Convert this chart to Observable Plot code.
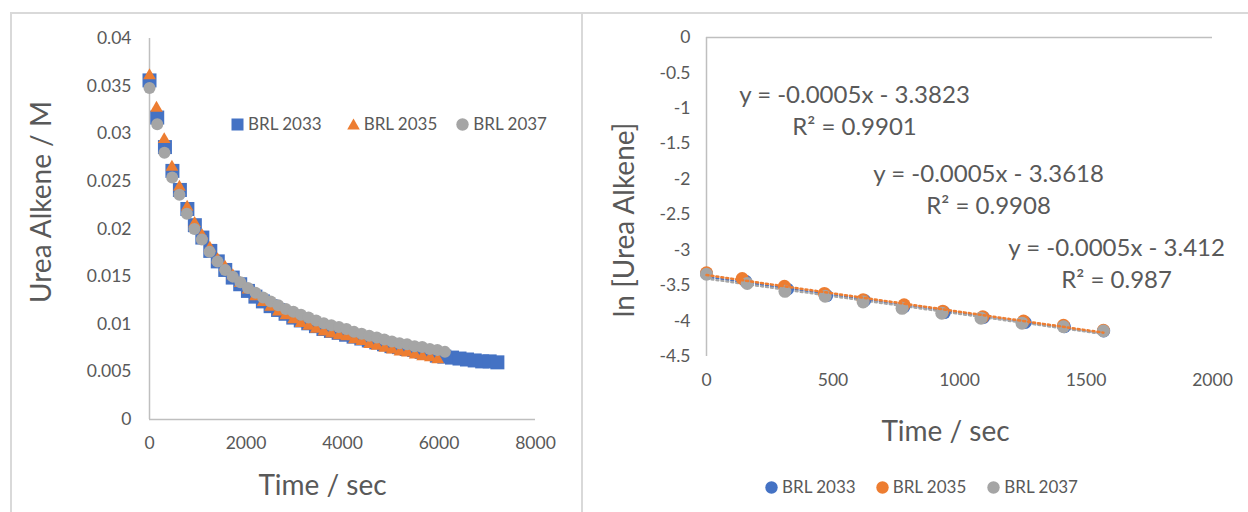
<!DOCTYPE html>
<html><head><meta charset="utf-8">
<script src="https://cdn.jsdelivr.net/npm/d3@7"></script>
<script src="https://cdn.jsdelivr.net/npm/@observablehq/plot@0.6"></script>
<style>
body{margin:0;background:#fff;}
#wrap{position:relative;width:1248px;height:512px;overflow:hidden;font-family:Lato,sans-serif;color:#595959;}
.line{position:absolute;background:#d9d9d9;}
#left,#right{position:absolute;top:0;}
#left{left:0;} #right{left:582px;}
.legend{position:absolute;display:flex;align-items:center;font-size:17px;color:#595959;white-space:nowrap;line-height:24px;}
.legend .item{display:flex;align-items:center;}
.legend svg{margin-right:4px;display:block;}
</style></head><body>
<div id="wrap">
  <div class="line" style="left:11px;top:12px;width:1237px;height:2px"></div>
  <div class="line" style="left:10px;top:12px;width:2px;height:500px"></div>
  <div class="line" style="left:581px;top:12px;width:2px;height:500px"></div>
  <div id="left"></div>
  <div id="right"></div>
  <div class="legend" id="legL" style="left:231px;top:112px"></div>
  <div class="legend" id="legR" style="left:765px;top:475px"></div>
</div>
<script>
// ---------- series names & colours ----------
const seriesNames = ["BRL 2033", "BRL 2035", "BRL 2037"];
const seriesColors = ["#4472C4", "#ED7D31", "#A5A5A5"];

// ---------- left chart: concentration vs time ----------
const t2033 = [0,160,320,475,630,785,940,1095,1260,1415,1570,1725,1880,2040,2195,2350,2510,2665,2820,2980,3135,3290,3450,3605,3760,3920,4075,4230,4390,4545,4700,4860,5015,5170,5330,5485,5640,5800,5955,6110,6270,6425,6580,6740,6895,7050,7210];
const c2033 = [0.0356,0.0317,0.0286,0.0261,0.0241,0.0221,0.0204,0.0191,0.0177,0.0166,0.0157,0.0149,0.0142,0.0135,0.0129,0.0124,0.0119,0.0115,0.0111,0.0107,0.0104,0.0101,0.0098,0.0095,0.0093,0.0091,0.0089,0.0087,0.0085,0.0083,0.0081,0.0079,0.0077,0.0076,0.0074,0.0073,0.0071,0.0070,0.0067,0.0066,0.0065,0.0064,0.0063,0.0062,0.0061,0.0061,0.0060];

const t2035 = [0,145,305,465,620,780,935,1090,1250,1410,1565,1725,1880,2040,2195,2355,2510,2670,2825,2985,3140,3300,3455,3615,3770,3930,4085,4245,4400,4560,4715,4875,5030,5190,5345,5505,5660,5820,5975];
const c2035 = [0.0361,0.0327,0.0294,0.0265,0.0244,0.0223,0.0206,0.0193,0.0180,0.0168,0.0160,0.0151,0.0143,0.0136,0.0129,0.0123,0.0118,0.0113,0.0109,0.0105,0.0101,0.0098,0.0095,0.0092,0.0090,0.0088,0.0087,0.0084,0.0082,0.0079,0.0077,0.0075,0.0073,0.0071,0.0070,0.0068,0.0066,0.0065,0.0063];

const t2037 = [0,160,310,470,620,775,930,1085,1245,1410,1570,1727,1884,2041,2198,2355,2512,2669,2826,2983,3140,3297,3454,3611,3768,3925,4082,4239,4396,4553,4710,4867,5024,5181,5338,5495,5652,5809,5966,6123];
const c2037 = [0.0348,0.0310,0.0280,0.0254,0.0236,0.0216,0.0200,0.0189,0.0176,0.0166,0.0157,0.0150,0.0144,0.0138,0.0133,0.0128,0.0124,0.0120,0.0116,0.0113,0.0110,0.0107,0.0104,0.0101,0.0099,0.0097,0.0095,0.0092,0.0090,0.0088,0.0086,0.0084,0.0082,0.0080,0.0079,0.0077,0.0076,0.0074,0.0073,0.0071];

const xTicksLeft = [0, 2000, 4000, 6000, 8000];
const yTicksLeft = [0, 0.005, 0.01, 0.015, 0.02, 0.025, 0.03, 0.035, 0.04];
const xTitleLeft = "Time / sec";
const yTitleLeft = "Urea Alkene / M";

// ---------- right chart: ln[conc] vs time ----------
const lt2033 = [0,155,320,475,625,780,940,1095,1260,1415,1570];
const ln2033 = [-3.33,-3.44,-3.55,-3.64,-3.71,-3.80,-3.88,-3.95,-4.02,-4.08,-4.14];
const lt2035 = [0,141,308,466,619,781,934,1092,1253,1411,1569];
const ln2035 = [-3.32,-3.40,-3.51,-3.61,-3.70,-3.77,-3.86,-3.94,-4.00,-4.06,-4.13];
const lt2037 = [0,161,310,469,619,773,930,1085,1247,1411,1569];
const ln2037 = [-3.34,-3.47,-3.58,-3.65,-3.73,-3.82,-3.89,-3.96,-4.03,-4.08,-4.14];

const xTicksRight = [0, 500, 1000, 1500, 2000];
const yTicksRight = [0, -0.5, -1, -1.5, -2, -2.5, -3, -3.5, -4, -4.5];
const xTitleRight = "Time / sec";
const yTitleRight = "ln [Urea Alkene]";

const equationTexts = ["y = -0.0005x - 3.3823\nR² = 0.9901", "y = -0.0005x - 3.3618\nR² = 0.9908", "y = -0.0005x - 3.412\nR² = 0.987"];
// annotation anchor points (data units) for the trendline labels
const equationAnchors = [{x: 585, y: -1.01}, {x: 1115, y: -2.12}, {x: 1621, y: -3.16}];

// ---------- build tables ----------
const zipRows = (ts, vs) => ts.map((t, i) => ({t, v: vs[i]}));
const L = [zipRows(t2033, c2033), zipRows(t2035, c2035), zipRows(t2037, c2037)];
const R = [zipRows(lt2033, ln2033), zipRows(lt2035, ln2035), zipRows(lt2037, ln2037)];
const eqRows = equationTexts.map((s, i) => ({label: s, ...equationAnchors[i]}));

const axisColor = "#bfbfbf";
const textColor = "#595959";
const fmt = d => String(d);

const left = Plot.plot({
  width: 582, height: 512,
  marginLeft: 149, marginRight: 47, marginTop: 38, marginBottom: 93,
  style: {fontFamily: "Lato, sans-serif", color: textColor, background: "transparent", overflow: "visible"},
  x: {domain: [0, 8000]},
  y: {domain: [0, 0.04]},
  marks: [
    Plot.axisY(yTicksLeft, {tickSize: 0, tickPadding: 18, fontSize: 17.5, tickFormat: fmt, label: null}),
    Plot.axisX(xTicksLeft, {tickSize: 0, tickPadding: 17, fontSize: 17.5, tickFormat: fmt, label: null}),
    Plot.ruleX([0], {stroke: axisColor, strokeWidth: 1.5}),
    Plot.ruleY([0], {stroke: axisColor, strokeWidth: 1.5}),
    Plot.dot(L[0], {x: "t", y: "v", symbol: "square", r: 7.9, fill: seriesColors[0]}),
    Plot.dot(L[1], {x: "t", y: "v", symbol: "triangle", r: 4.7, fill: seriesColors[1]}),
    Plot.dot(L[2], {x: "t", y: "v", symbol: "circle", r: 6, fill: seriesColors[2]}),
    Plot.text([yTitleLeft], {text: d => d, frameAnchor: "left", textAnchor: "middle", rotate: -90, dx: -107, dy: -27, fontSize: 28, fill: textColor}),
    Plot.text([xTitleLeft], {text: d => d, frameAnchor: "bottom", dx: -20, dy: 75, fontSize: 28, fill: textColor})
  ]
});
document.getElementById("left").append(left);

const right = Plot.plot({
  width: 666, height: 512,
  marginLeft: 124, marginRight: 36, marginTop: 37, marginBottom: 156,
  style: {fontFamily: "Lato, sans-serif", color: textColor, background: "transparent", overflow: "visible"},
  x: {domain: [0, 2000]},
  y: {domain: [-4.5, 0]},
  marks: [
    Plot.axisY(yTicksRight, {tickSize: 0, tickPadding: 16, fontSize: 17.5, tickFormat: fmt, label: null}),
    Plot.axisX(xTicksRight, {tickSize: 0, tickPadding: 17, fontSize: 17.5, tickFormat: fmt, label: null}),
    Plot.ruleX([0], {stroke: axisColor, strokeWidth: 1.5}),
    Plot.ruleY([0], {stroke: axisColor, strokeWidth: 1.5}),
    Plot.linearRegressionY(R[0], {x: "t", y: "v", stroke: seriesColors[0], strokeWidth: 2.2, strokeDasharray: "2,3", ci: 0}),
    Plot.linearRegressionY(R[2], {x: "t", y: "v", stroke: seriesColors[2], strokeWidth: 2.2, strokeDasharray: "2,3", ci: 0}),
    Plot.dot(R[0], {x: "t", y: "v", r: 6.5, fill: seriesColors[0]}),
    Plot.dot(R[1], {x: "t", y: "v", r: 6.5, fill: seriesColors[1]}),
    Plot.dot(R[2], {x: "t", y: "v", r: 6.5, fill: seriesColors[2]}),
    Plot.linearRegressionY(R[1], {x: "t", y: "v", stroke: seriesColors[1], strokeWidth: 2.5, strokeDasharray: "2,3", ci: 0}),
    Plot.text(eqRows, {x: "x", y: "y", text: "label", fontSize: 24, lineHeight: 1.33, fill: textColor}),
    Plot.text([yTitleRight], {text: d => d, frameAnchor: "left", textAnchor: "middle", rotate: -90, dx: -81, dy: 23, fontSize: 28, fill: textColor}),
    Plot.text([xTitleRight], {text: d => d, frameAnchor: "bottom", dx: -14, dy: 84, fontSize: 28, fill: textColor})
  ]
});
document.getElementById("right").append(right);

// ---------- legends ----------
function symbolSvg(kind, color) {
  const ns = "http://www.w3.org/2000/svg";
  const s = document.createElementNS(ns, "svg");
  s.setAttribute("width", 13); s.setAttribute("height", 13);
  let el;
  if (kind === "square") { el = document.createElementNS(ns, "rect"); el.setAttribute("x", 0.5); el.setAttribute("y", 0.5); el.setAttribute("width", 12); el.setAttribute("height", 12); }
  else if (kind === "triangle") { el = document.createElementNS(ns, "path"); el.setAttribute("d", "M6.5,0.5L12.8,11.5L0.2,11.5Z"); }
  else { el = document.createElementNS(ns, "circle"); el.setAttribute("cx", 6.5); el.setAttribute("cy", 6.5); el.setAttribute("r", 6.2); }
  el.setAttribute("fill", color);
  s.append(el);
  return s;
}
function buildLegend(id, kinds, gaps) {
  const box = document.getElementById(id);
  seriesNames.forEach((name, i) => {
    const item = document.createElement("div");
    item.className = "item";
    if (i > 0) item.style.marginLeft = gaps[i - 1] + "px";
    item.append(symbolSvg(kinds[i], seriesColors[i]));
    const sp = document.createElement("span");
    sp.textContent = name;
    item.append(sp);
    box.append(item);
  });
}
buildLegend("legL", ["square", "triangle", "circle"], [25, 19]);
buildLegend("legR", ["circle", "circle", "circle"], [20, 21]);
</script>
</body></html>
